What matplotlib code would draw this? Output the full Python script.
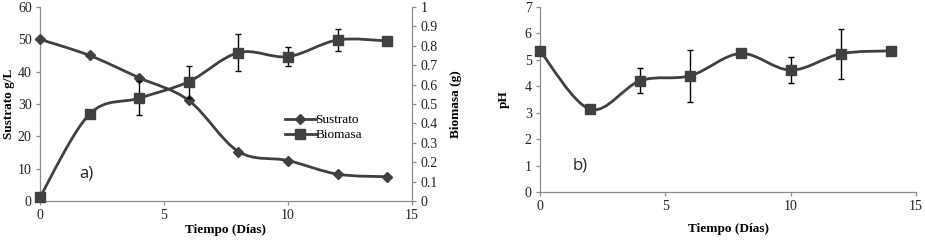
import numpy as np
import matplotlib
matplotlib.use('Agg')
import matplotlib.pyplot as plt
from matplotlib.path import Path
from matplotlib.patches import PathPatch
from matplotlib.lines import Line2D
from matplotlib.ticker import FuncFormatter, MultipleLocator

# data
dias = [0, 2, 4, 6, 8, 10, 12, 14]
sustrato = [50.0, 45.0, 38.1, 31.1, 15.3, 12.5, 8.3, 7.5]
biomasa = [0.02, 0.448, 0.53, 0.615, 0.765, 0.744, 0.83, 0.825]
biomasa_err = [0, 0, 0.088, 0.083, 0.096, 0.05, 0.058, 0]
ph = [5.34, 3.13, 4.21, 4.40, 5.24, 4.61, 5.23, 5.34]
ph_err = [0, 0, 0.47, 0.98, 0, 0.49, 0.95, 0]

gris = '#404040'
eje = '#8c8c8c'
serif = 'Liberation Serif'
tsize = 10
lsize = 9.5


def smooth_path(x, y):
    # Excel-like smoothed line: Catmull-Rom converted to cubic Bezier segments
    x = np.asarray(x, float)
    y = np.asarray(y, float)
    p = np.column_stack([x, y])
    pp = np.vstack([p[0], p, p[-1]])
    verts = [p[0]]
    codes = [Path.MOVETO]
    for i in range(len(p) - 1):
        p0, p1, p2, p3 = pp[i], pp[i + 1], pp[i + 2], pp[i + 3]
        c1 = p1 + (p2 - p0) / 6.0
        c2 = p2 - (p3 - p1) / 6.0
        verts += [c1, c2, p2]
        codes += [Path.CURVE4] * 3
    return Path(verts, codes)


def style(ax):
    ax.spines['top'].set_visible(False)
    ax.spines['right'].set_visible(False)
    for s in ['left', 'bottom']:
        ax.spines[s].set_color(eje)
        ax.spines[s].set_linewidth(0.9)
    ax.tick_params(axis='both', direction='out', color=eje, length=3, width=0.9,
                   labelsize=tsize, pad=3, labelcolor='#222222')
    for lab in ax.get_xticklabels() + ax.get_yticklabels():
        lab.set_fontfamily(serif)


fig = plt.figure(figsize=(9.25, 2.4), dpi=100)

# ---------------- panel a ----------------
a1 = fig.add_axes([0.0432, 0.1625, 0.4022, 0.8085])
a2 = a1.twinx()
a2.set_position([0.0432, 0.1625, 0.4022, 0.8085])

a1.set_xlim(0, 15)
a1.set_ylim(0, 60)
a1.xaxis.set_major_locator(MultipleLocator(5))
a1.yaxis.set_major_locator(MultipleLocator(10))
a2.set_ylim(0, 1)
a2.yaxis.set_major_locator(MultipleLocator(0.1))
a2.yaxis.set_major_formatter(FuncFormatter(lambda v, p: '%g' % round(v, 1)))

a1.add_patch(PathPatch(smooth_path(dias, sustrato), fill=False, ec=gris, lw=2.0,
                       capstyle='round', zorder=3))
a1.plot(dias, sustrato, ls='none', marker='D', ms=5, color=gris, zorder=4, clip_on=False)

a2.add_patch(PathPatch(smooth_path(dias, biomasa), fill=False, ec=gris, lw=2.0,
                       capstyle='round', zorder=3))
a2.errorbar(dias, biomasa, yerr=biomasa_err, fmt='none', ecolor='black',
            elinewidth=1.0, capsize=2.5, capthick=1.0, zorder=4)
a2.plot(dias, biomasa, ls='none', marker='s', ms=7.5, color=gris, zorder=5, clip_on=False)

style(a1)
for s in ['top', 'left', 'bottom']:
    a2.spines[s].set_visible(False)
a2.spines['right'].set_color(eje)
a2.spines['right'].set_linewidth(0.9)
a2.tick_params(axis='y', direction='out', color=eje, length=3, width=0.9,
               labelsize=tsize, pad=3, labelcolor='#222222')
for lab in a2.get_yticklabels():
    lab.set_fontfamily(serif)

a1.set_xlabel('Tiempo (Días)', fontfamily=serif, fontweight='bold', fontsize=lsize, labelpad=1)
a1.set_ylabel('Sustrato g/L', fontfamily=serif, fontweight='bold', fontsize=lsize, labelpad=2)
a2.set_ylabel('Biomasa (g)', fontfamily=serif, fontweight='bold', fontsize=lsize, labelpad=9)

h1 = Line2D([], [], color=gris, lw=2.0, marker='D', ms=5)
h2 = Line2D([], [], color=gris, lw=2.0, marker='s', ms=7.5)
a2.legend([h1, h2], ['Sustrato', 'Biomasa'], loc='upper left',
          bbox_to_anchor=(0.645, 0.475), frameon=False, handlelength=2.3,
          handletextpad=0.0, labelspacing=0.2, borderaxespad=0,
          prop={'family': serif, 'size': lsize})
a1.text(0.105, 0.12, 'a)', transform=a1.transAxes, fontsize=12,
        fontfamily='Open Sans', color='#222222')

# ---------------- panel b ----------------
b = fig.add_axes([0.5838, 0.2, 0.4065, 0.771])
b.set_xlim(0, 15)
b.set_ylim(0, 7)
b.xaxis.set_major_locator(MultipleLocator(5))
b.yaxis.set_major_locator(MultipleLocator(1))
b.add_patch(PathPatch(smooth_path(dias, ph), fill=False, ec=gris, lw=2.0,
                      capstyle='round', zorder=3))
b.errorbar(dias, ph, yerr=ph_err, fmt='none', ecolor='black',
           elinewidth=1.0, capsize=2.5, capthick=1.0, zorder=4)
b.plot(dias, ph, ls='none', marker='s', ms=7.5, color=gris, zorder=5, clip_on=False)
style(b)
b.set_xlabel('Tiempo (Días)', fontfamily=serif, fontweight='bold', fontsize=lsize, labelpad=7)
b.set_ylabel('pH', fontfamily=serif, fontweight='bold', fontsize=lsize, labelpad=11)
b.text(0.087, 0.12, 'b)', transform=b.transAxes, fontsize=12,
       fontfamily='Open Sans', color='#222222')

plt.savefig('out.png', dpi=100)
